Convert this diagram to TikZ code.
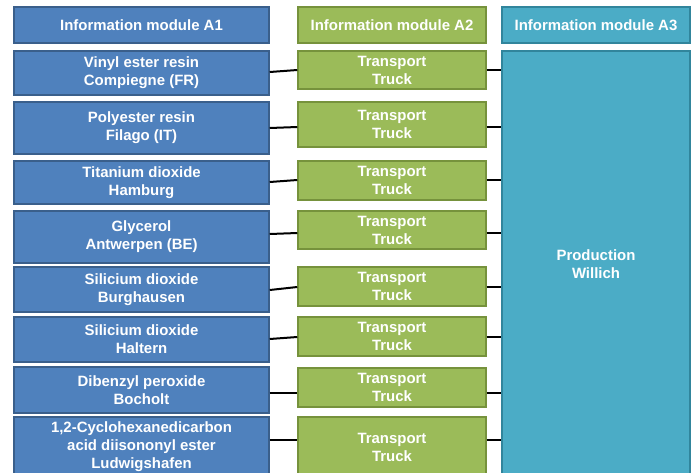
\documentclass[tikz,border=0pt]{standalone}
\usepackage{fontspec}
\setmainfont{Liberation Sans}
\usetikzlibrary{shadows}

\definecolor{srcblue}{HTML}{4F81BD}
\definecolor{srcedge}{HTML}{3A5F8B}
\definecolor{trgreen}{HTML}{9BBB59}
\definecolor{tredge}{HTML}{76923C}
\definecolor{prteal}{HTML}{4BACC6}
\definecolor{predge}{HTML}{31859C}

\tikzset{
  box/.style = {inner sep=0pt, line width=1.1pt, align=center, text=white,
                font=\fontsize{11.2}{13.5}\selectfont\bfseries,
                drop shadow={shadow xshift=0.8pt, shadow yshift=-0.8pt, fill=black!22, opacity=1}},
  srcbox/.style = {box, draw=srcedge, fill=srcblue, minimum width=191.25pt},
  trbox/.style = {box, draw=tredge, fill=trgreen, minimum width=141pt},
  prbox/.style = {box, draw=predge, fill=prteal, minimum width=141pt},
  link/.style = {line width=1.5pt, black}
}

\begin{document}
\begin{tikzpicture}[x=0.75pt, y=-0.75pt]
\useasboundingbox (0,0) rectangle (697,472);

% headers
\node[srcbox, minimum height=27pt] (hA1) at (141.5,25) {Information module A1};
\node[trbox, minimum height=27pt] (hA2) at (392,25) {Information module A2};
\node[prbox, minimum height=27pt] (hA3) at (596,25) {Information module A3};

% production site
\node[prbox, minimum height=319.5pt] (prod) at (596,264) {Production\\Willich};

% raw materials
\node[srcbox, minimum height=33pt] (m1) at (141.5,73) {Vinyl ester resin\\Compiegne (FR)};
\node[srcbox, minimum height=39pt] (m2) at (141.5,128) {Polyester resin\\Filago (IT)};
\node[srcbox, minimum height=32.25pt] (m3) at (141.5,182.5) {Titanium dioxide\\Hamburg};
\node[srcbox, minimum height=39pt] (m4) at (141.5,237) {Glycerol\\Antwerpen (BE)};
\node[srcbox, minimum height=33.75pt] (m5) at (141.5,289.5) {Silicium dioxide\\Burghausen};
\node[srcbox, minimum height=33.75pt] (m6) at (141.5,339.5) {Silicium dioxide\\Haltern};
\node[srcbox, minimum height=34.5pt] (m7) at (141.5,390) {Dibenzyl peroxide\\Bocholt};
\node[srcbox, minimum height=45pt] (m8) at (141.5,447) {1,2-Cyclohexanedicarbon\\acid diisononyl ester\\Ludwigshafen};

% transport
\node[trbox, minimum height=28.5pt] (t1) at (392,70) {Transport\\Truck};
\node[trbox, minimum height=33.75pt] (t2) at (392,124.5) {Transport\\Truck};
\node[trbox, minimum height=29.25pt] (t3) at (392,180.5) {Transport\\Truck};
\node[trbox, minimum height=28.5pt] (t4) at (392,230) {Transport\\Truck};
\node[trbox, minimum height=29.25pt] (t5) at (392,286.5) {Transport\\Truck};
\node[trbox, minimum height=29.25pt] (t6) at (392,336.5) {Transport\\Truck};
\node[trbox, minimum height=29.25pt] (t7) at (392,387.5) {Transport\\Truck};
\node[trbox, minimum height=45pt] (t8) at (392,447) {Transport\\Truck};

\foreach \i/\ya/\yb in {1/72/70, 2/128/127, 3/182/180, 4/234/233,
                        5/290/287, 6/339/337, 7/393/393, 8/440/440}{
  \draw[link] (m\i.east |- 0,\ya) -- (t\i.west |- 0,\yb);
  \draw[link] (t\i.east |- 0,\yb) -- (prod.west |- 0,\yb);
}
\end{tikzpicture}
\end{document}
